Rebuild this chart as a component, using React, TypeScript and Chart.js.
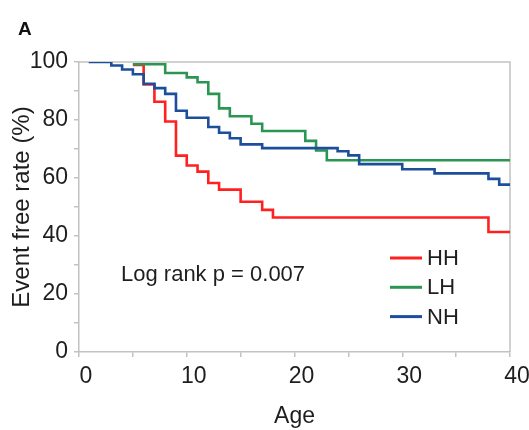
import React, { useEffect, useRef } from 'react';
import { Chart, registerables } from 'chart.js';

Chart.register(...registerables);

// ---- data ----
const groupNames = ['HH', 'LH', 'NH'];
const hhAge = [5, 6, 7, 8, 9, 10, 11, 12, 13, 15, 17, 18, 38, 40];
const hhRate = [99, 92.3, 86.3, 79.5, 67.7, 64.3, 62.2, 58.3, 56, 51.8, 49, 46.4, 41.4, 41.4];
const lhAge = [5, 8, 10, 11, 12, 13, 14, 16, 17, 21, 22, 23, 40];
const lhRate = [99.2, 96.2, 94.7, 93, 89, 84, 81.3, 78.7, 76.2, 72.8, 69.5, 66.1, 66.1];
const nhAge = [0.9, 3, 4, 5, 6, 7, 8, 9, 10, 12, 13, 14, 15, 17, 24, 25, 26, 30, 33, 38, 39, 40];
const nhRate = [100, 98.8, 97.4, 95.8, 92.5, 91, 89, 83.2, 80.8, 77.6, 75.6, 73.7, 71.6, 70.3, 69.2, 67.8, 64.8, 63, 61.6, 59.7, 57.7, 57.7];
const xLabelEvery = 10;
const yLabelEvery = 20;
const xAxisTitle = 'Age';
const yAxisTitle = 'Event free rate (%)';
const pValueText = 'Log rank p = 0.007';
const panelLabel = 'A';

const seriesColors = ['#ff2020', '#2a9652', '#1c4e9c'];
const FONT = "'Liberation Sans', Arial, sans-serif";
const GRAY = '#c2c2c2';
const TEXT = '#1e1e1e';

const toPoints = (xs: number[], ys: number[]) => xs.map((x, i) => ({ x, y: ys[i] }));

const overlayPlugin = {
  id: 'overlay',
  beforeDatasetsDraw(chart: any) {
    const { ctx, chartArea: a } = chart;
    ctx.save();
    ctx.strokeStyle = GRAY;
    ctx.lineWidth = 1.5;
    ctx.beginPath();
    ctx.moveTo(a.left, a.top);
    ctx.lineTo(a.right, a.top);
    ctx.lineTo(a.right, a.bottom);
    ctx.stroke();
    ctx.restore();
  },
  afterDraw(chart: any) {
    const { ctx, chartArea: a } = chart;
    ctx.save();
    // panel label
    ctx.fillStyle = '#111';
    ctx.font = `bold 19px ${FONT}`;
    ctx.textAlign = 'left';
    ctx.textBaseline = 'alphabetic';
    ctx.fillText(panelLabel, 18, 35);
    // p-value annotation
    ctx.fillStyle = TEXT;
    ctx.font = `22px ${FONT}`;
    ctx.textBaseline = 'middle';
    ctx.fillText(pValueText, a.left + 42, a.top + 213);
    // legend
    const ds = chart.data.datasets;
    ds.forEach((d: any, i: number) => {
      const y = a.top + 196 + i * 29.3;
      ctx.strokeStyle = d.borderColor;
      ctx.lineWidth = 3;
      ctx.beginPath();
      ctx.moveTo(a.left + 311, y);
      ctx.lineTo(a.left + 343, y);
      ctx.stroke();
      ctx.fillStyle = TEXT;
      ctx.font = `22px ${FONT}`;
      ctx.textBaseline = 'middle';
      ctx.fillText(d.label, a.left + 348, y + 1);
    });
    ctx.restore();
  },
};

export default function App() {
  const ref = useRef<HTMLCanvasElement | null>(null);

  useEffect(() => {
    document.body.style.margin = '0';
    const canvas = ref.current;
    if (!canvas) return;
    const series = [toPoints(hhAge, hhRate), toPoints(lhAge, lhRate), toPoints(nhAge, nhRate)];
    const chart = new Chart(canvas, {
      type: 'line',
      data: {
        datasets: series.map((pts, i) => ({
          label: groupNames[i],
          data: pts,
          borderColor: seriesColors[i],
          backgroundColor: seriesColors[i],
          borderWidth: 2.6,
          pointRadius: 0,
          stepped: 'before' as const,
          fill: false,
          order: 3 - i,
        })),
      },
      options: {
        responsive: false,
        animation: false,
        devicePixelRatio: 1,
        layout: { padding: { top: 62, right: 19, left: 0, bottom: 0 } },
        plugins: {
          legend: { display: false },
          tooltip: { enabled: false },
        },
        scales: {
          x: {
            type: 'linear',
            min: 0,
            max: 40,
            afterFit: (s: any) => { s.height = 78; },
            border: { color: GRAY, width: 1.5 },
            grid: { drawOnChartArea: false, drawTicks: true, tickLength: 5, color: GRAY, lineWidth: 1.5 },
            ticks: {
              stepSize: 5,
              autoSkip: false,
              maxRotation: 0,
              padding: 6,
              labelOffset: 7,
              color: TEXT,
              font: { family: FONT, size: 23 },
              callback: (v: any) => (Number(v) % xLabelEvery === 0 ? String(v) : ''),
            },
            title: {
              display: true,
              text: xAxisTitle,
              color: TEXT,
              font: { family: FONT, size: 23, lineHeight: 1.2 },
              padding: { top: 0, bottom: 0 },
            },
          },
          y: {
            type: 'linear',
            min: 0,
            max: 100,
            afterFit: (s: any) => { s.width = 79; },
            border: { color: GRAY, width: 1.5 },
            grid: { drawOnChartArea: false, drawTicks: true, tickLength: 5, color: GRAY, lineWidth: 1.5 },
            ticks: {
              stepSize: 10,
              autoSkip: false,
              padding: 6,
              color: TEXT,
              font: { family: FONT, size: 23 },
              callback: (v: any) => (Number(v) % yLabelEvery === 0 ? String(v) : ''),
            },
            title: {
              display: true,
              text: yAxisTitle,
              color: TEXT,
              font: { family: FONT, size: 24, lineHeight: 1.2 },
              padding: { top: 8, bottom: 0 },
            },
          },
        },
      },
      plugins: [overlayPlugin],
    });
    return () => chart.destroy();
  }, []);

  return (
    <div style={{ width: 529, height: 430, background: '#fff' }}>
      <canvas ref={ref} width={529} height={430} style={{ display: 'block' }} />
    </div>
  );
}
